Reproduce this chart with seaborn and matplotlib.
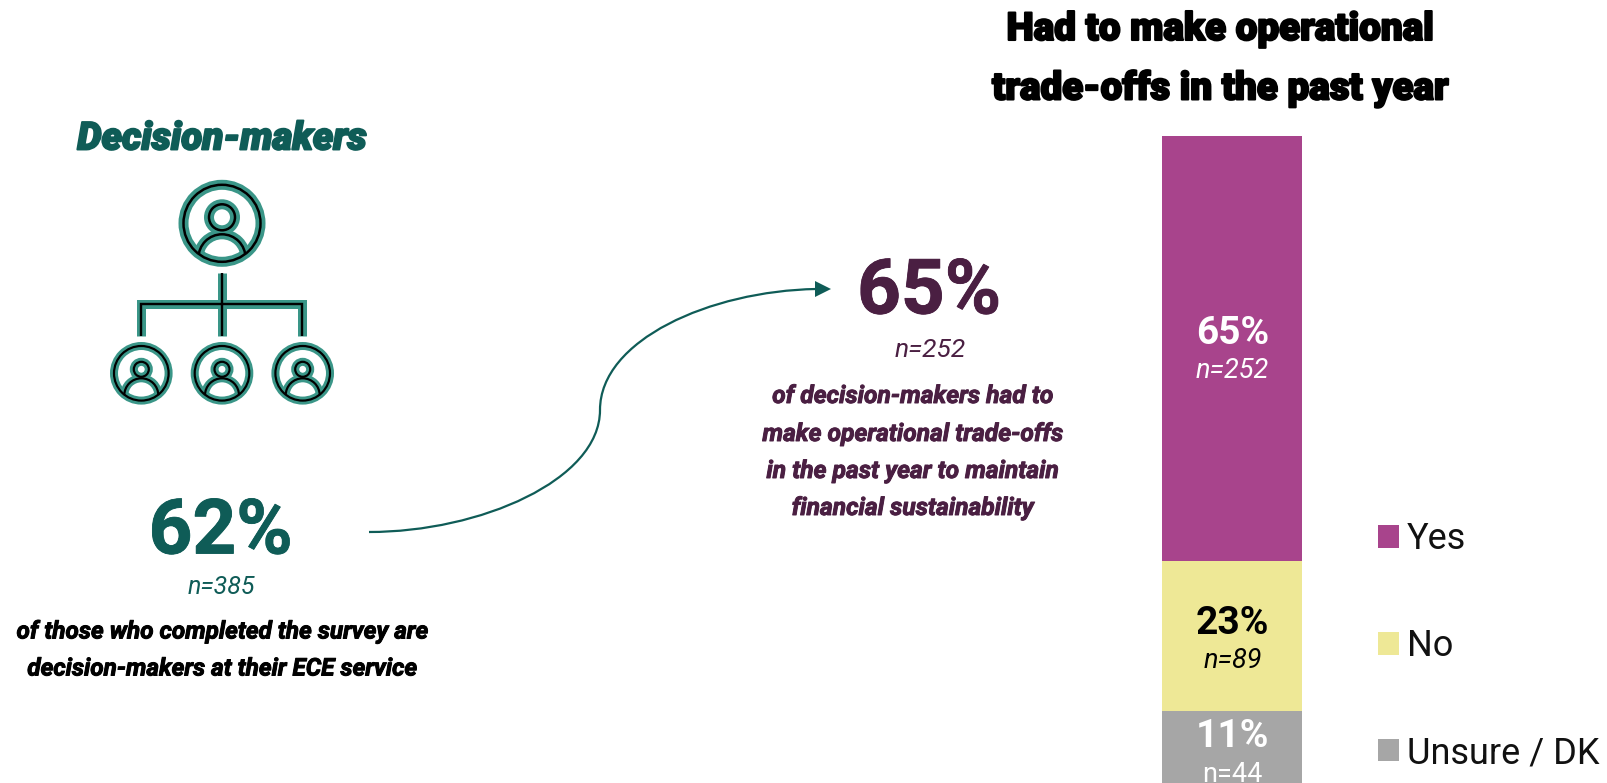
import matplotlib
matplotlib.use("Agg")
import matplotlib.pyplot as plt
import matplotlib.patheffects as pe
from matplotlib.patches import Circle, PathPatch, Polygon
from matplotlib.path import Path
import numpy as np
import seaborn as sns

# Survey results: had to make operational trade-offs in the past year
answers = ["Yes", "No", "Unsure / DK"]
shares = [65, 23, 11]
counts = [252, 89, 44]
bar_colors = ["#a8448c", "#eee896", "#a6a6a6"]
label_colors = ["white", "black", "white"]
count_styles = ["italic", "italic", "normal"]
label_shift = [0, -2, -3.5]

TEAL = "#0f5c57"
ICON_TEAL = "#3a9688"
PLUM = "#4a1f42"

sns.set_theme(style="white")
plt.rcParams["font.family"] = ["Roboto", "DejaVu Sans"]

W, H = 1608, 783
fig = plt.figure(figsize=(W / 100, H / 100), dpi=100, facecolor="white")

# Stacked bar, filling the figure down to its lower edge
ax = fig.add_axes([1162.4 / W, 0, 140 / W, (H - 136) / H])
tops = np.cumsum(shares[::-1])[::-1]
bottoms = tops - np.array(shares)
for name, value, base, color in zip(answers, shares, bottoms, bar_colors):
    sns.barplot(x=["all"], y=[value], bottom=base, color=color, saturation=1,
                width=1, ax=ax, label=name, linewidth=0)
ax.set_xlim(-0.5, 0.5)
ax.set_ylim(0, tops[0])
ax.set_xlabel("")
ax.set_ylabel("")
ax.set_xticks([])
ax.set_yticks([])
sns.despine(ax=ax, left=True, bottom=True)

for value, count, base, color, style, shift in zip(shares, counts, bottoms, label_colors,
                                                   count_styles, label_shift):
    middle = base + value / 2
    ax.annotate(f"{value}%", (0, middle), xytext=(0, 11 + shift), textcoords="offset points",
                ha="center", va="center", color=color, fontsize=28, fontweight="bold",
                annotation_clip=False)
    ax.annotate(f"n={count}", (0, middle), xytext=(0, -16 + shift), textcoords="offset points",
                ha="center", va="center", color=color, fontsize=19.5, style=style,
                annotation_clip=False)

legend = ax.legend(loc="lower left", bbox_to_anchor=(1378 / W, 12 / H),
                   bbox_transform=fig.transFigure, frameon=False, fontsize=26,
                   handlelength=0.58, handleheight=0.58, handletextpad=0.22,
                   labelspacing=1.96, borderpad=0, borderaxespad=0)
for text in legend.get_texts():
    text.set_color("#111111")

# Overlay in pixel units for the callouts, arrow and icon
ov = fig.add_axes([0, 0, 1, 1], zorder=5)
ov.set_xlim(0, W)
ov.set_ylim(H, 0)
ov.axis("off")
ov.patch.set_alpha(0)


def label(x, y, s, size, color, weight="bold", style="normal", stroke=0.0):
    t = ov.text(x, y, s, ha="center", va="center", fontsize=size, color=color,
                fontweight=weight, style=style)
    if stroke:
        t.set_path_effects([pe.withStroke(linewidth=stroke, foreground=color)])
    return t


label(1220, 29.5, "Had to make operational", 27.8, "black", weight="black", stroke=1.5)
label(1220, 88.5, "trade-offs in the past year", 27.8, "black", weight="black", stroke=1.5)
label(222, 139, "Decision-makers", 27.8, TEAL, weight="black", style="italic", stroke=1.4)

label(220.5, 533, "62%", 55, TEAL, stroke=0.6)
label(221.5, 587, "n=385", 18, TEAL, weight="normal", style="italic")
label(222, 632, "of those who completed the survey are", 17.5, "black", style="italic", stroke=0.7)
label(222, 669, "decision-makers at their ECE service", 17.5, "black", style="italic", stroke=0.7)

label(929, 293, "65%", 55, PLUM, stroke=0.6)
label(930, 350, "n=252", 19, PLUM, weight="normal", style="italic")
for y, line in zip([396, 434, 471, 508],
                   ["of decision-makers had to", "make operational trade-offs",
                    "in the past year to maintain", "financial sustainability"]):
    label(913, y, line, 17.7, PLUM, style="italic", stroke=0.7)

# S-shaped connector between the two callouts
curve = Path([(369, 532), (480, 532), (600, 480), (600, 410),
              (600, 340), (710, 291), (816, 289)],
             [Path.MOVETO, Path.CURVE4, Path.CURVE4, Path.CURVE4,
              Path.CURVE4, Path.CURVE4, Path.CURVE4])
ov.add_patch(PathPatch(curve, fc="none", ec=TEAL, lw=1.6))
ov.add_patch(Polygon([(815, 281), (831, 289), (815, 297)], fc=TEAL, ec="none"))


def stroke_layers(teal_px, black_px):
    return [(ICON_TEAL, teal_px * 0.72), ("black", black_px * 0.72)]


def person(cx, cy, r, head_dy, head_r, dome_top, dome_r, teal_px, black_px):
    for color, lw in stroke_layers(teal_px, black_px):
        ring = Circle((cx, cy), r, fc="none", ec=color, lw=lw, zorder=3)
        head = Circle((cx, cy + head_dy), head_r, fc="none", ec=color, lw=lw, zorder=3)
        dome = Circle((cx, cy + dome_top + dome_r), dome_r, fc="none", ec=color, lw=lw, zorder=3)
        clip = Circle((cx, cy), r, transform=ov.transData)
        ov.add_patch(dome)
        dome.set_clip_path(clip)
        ov.add_patch(ring)
        ov.add_patch(head)


person(222, 223.3, 38.5, -6, 13, 11, 23.5, 10, 2.5)
for cx in (141.3, 222, 302.7):
    person(cx, 373.3, 27.3, -4, 7.5, 5, 17, 8, 2.2)

# Org-chart connectors
for color, lw in stroke_layers(9, 2.4):
    ov.plot([222, 222], [273, 336], color=color, lw=lw, solid_capstyle="butt", zorder=2)
    ov.plot([141, 141, 302.5, 302.5], [336, 304, 304, 336], color=color, lw=lw,
            solid_capstyle="butt", solid_joinstyle="miter", zorder=2)

fig.savefig("out.png", dpi=100, facecolor="white")
